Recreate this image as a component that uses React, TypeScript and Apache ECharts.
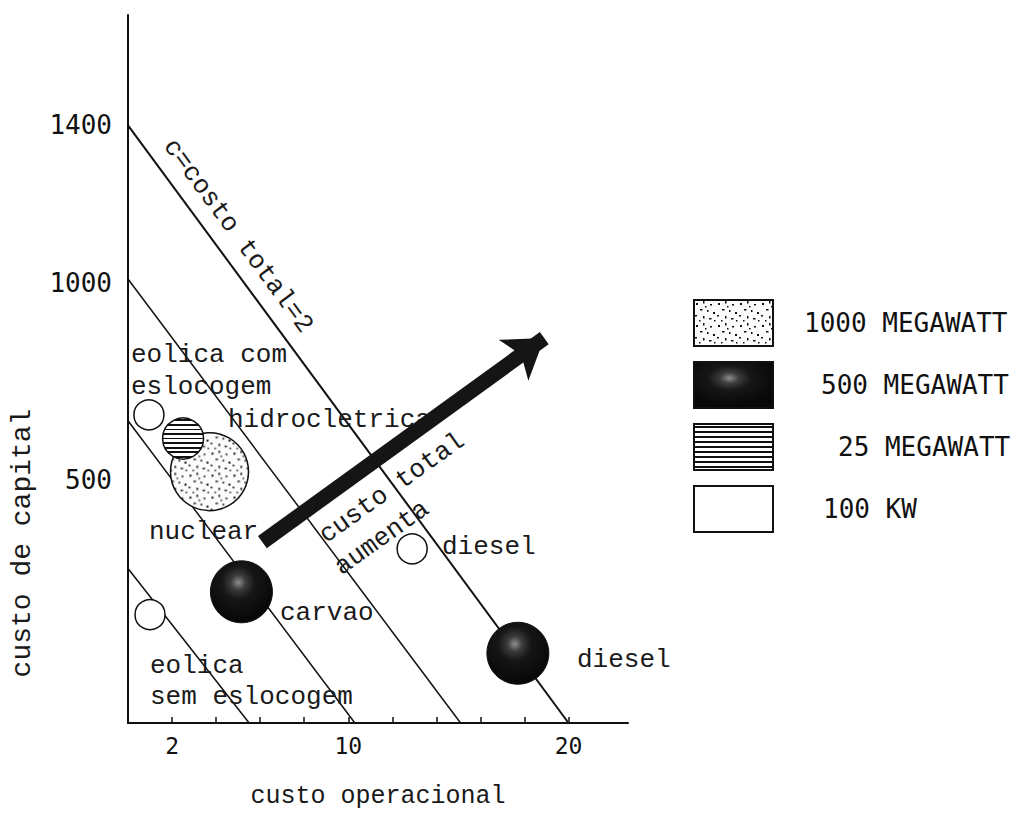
import React, { useEffect, useRef } from "react";
import * as echarts from "echarts";

// ---- data ----
const xTickLabels = [2, 10, 20];
const xTickMarks = [2, 4, 6, 8, 10, 12, 14, 16, 18, 20];
const yTickLabels = [500, 1000, 1400];

const seriesNames = ["1000 MEGAWATT", "500 MEGAWATT", "25 MEGAWATT", "100 KW"];
// [custo operacional, custo de capital]
const mw1000 = [[3.7, 521]]; // nuclear
const mw500 = [[5.15, 216], [17.7, 60]]; // carvao, diesel
const mw25 = [[2.5, 605]]; // hidroeletrica
const kw100 = [[0.95, 665], [12.9, 325], [1.0, 158]]; // eolica com, diesel, eolica sem

// iso-cost lines: capital cost where they meet the y axis, operational cost where they meet the x axis
const isoCapital = [1400, 1010, 650, 275];
const isoOperational = [20, 15.1, 10.3, 5.5];

// "custo total aumenta" arrow
const arrowStart = [6.1, 342];
const arrowEnd = [18.9, 860];

const X_MIN = 0;
const X_MAX = 22.7;
const Y_MIN = -117;
const Y_MAX = 1680;

const MONO = "'Liberation Mono', 'DejaVu Sans Mono', monospace";
const SANSMONO = "'DejaVu Sans Mono', monospace";

function makeStipple() {
  const c = document.createElement("canvas");
  c.width = 22;
  c.height = 22;
  const ctx = c.getContext("2d");
  if (ctx) {
    ctx.fillStyle = "#fcfcfc";
    ctx.fillRect(0, 0, 22, 22);
    ctx.fillStyle = "#111";
    const dots = [
      [2, 3, 2, 2], [9, 1, 1.5, 2.5], [16, 4, 2, 1.5], [6, 9, 2.5, 1.5],
      [13, 10, 1.5, 2], [19, 12, 2, 2], [1, 15, 2, 1.5], [9, 16, 1.5, 2.5],
      [15, 18, 2.5, 1.5], [5, 20, 1.5, 1.5], [20, 20, 1.5, 1.5], [11, 6, 1.5, 1.5],
    ];
    dots.forEach(([x, y, w, h]) => ctx.fillRect(x, y, w, h));
  }
  return c;
}

function stripes(n: number) {
  const stops: any[] = [];
  for (let k = 0; k < n; k++) {
    const s = (k + 0.5) / n - 0.022;
    const e = s + 0.044;
    stops.push({ offset: Math.max(0, s), color: "#fff" });
    stops.push({ offset: Math.max(0, s), color: "#111" });
    stops.push({ offset: Math.min(1, e), color: "#111" });
    stops.push({ offset: Math.min(1, e), color: "#fff" });
  }
  return { type: "linear", x: 0, y: 0, x2: 0, y2: 1, colorStops: stops };
}

const darkBall = {
  type: "radial",
  x: 0.45,
  y: 0.35,
  r: 0.6,
  colorStops: [
    { offset: 0, color: "#8e8e8e" },
    { offset: 0.2, color: "#3c3c3c" },
    { offset: 0.45, color: "#161616" },
    { offset: 1, color: "#080808" },
  ],
};

export default function App() {
  const ref = useRef<HTMLDivElement>(null);

  useEffect(() => {
    if (!ref.current) return;
    const chart = echarts.init(ref.current, null, { renderer: "svg" });
    const stipple = makeStipple();

    const sizes = [78, 62, 41, 30];
    const styles = [
      { color: { image: stipple, repeat: "repeat" }, borderColor: "#111", borderWidth: 1.5, opacity: 1 },
      { color: darkBall, borderColor: "#111", borderWidth: 1, opacity: 1 },
      { color: stripes(9), borderColor: "#111", borderWidth: 1.5, opacity: 1 },
      { color: "#fff", borderColor: "#111", borderWidth: 1.5, opacity: 1 },
    ];
    // symbols are drawn in a unit box and scaled, so the pattern for the marks is scaled back
    const sc = 2 / sizes[0];
    const stippleMark = {
      color: { image: stipple, repeat: "repeat", scaleX: sc, scaleY: sc },
      borderColor: "#111",
      borderWidth: 1.5,
      opacity: 1,
    };
    const pointSets = [mw1000, mw500, mw25, kw100];

    const isoSeries = isoCapital.map((c, i) => ({
      type: "line",
      name: "iso" + i,
      data: [
        [X_MIN, c],
        [isoOperational[i], Y_MIN],
      ],
      symbol: "none",
      lineStyle: { color: "#111", width: i === 0 ? 2 : 1.5 },
      z: 1,
      silent: true,
    }));

    const scatterSeries = pointSets.map((pts, i) => ({
      type: "scatter",
      name: seriesNames[i],
      data: i === 0 ? pts.map((v) => ({ value: v, itemStyle: stippleMark })) : pts,
      symbol: "circle",
      symbolSize: sizes[i],
      itemStyle: styles[i],
      z: i === 2 ? 4 : 3,
      silent: true,
    }));

    const pads = [26, 43, 60, 45];
    const rich: any = {};
    pads.forEach((p, i) => {
      rich["p" + i] = {
        fontFamily: SANSMONO,
        fontSize: 26,
        color: "#111",
        padding: [0, 0, 0, p],
      };
    });

    const txt = (text: string, x: number, y: number, extra: any = {}) => ({
      type: "text",
      x,
      y,
      z: 2,
      rotation: extra.rotation || 0,
      silent: true,
      style: {
        text,
        fontFamily: MONO,
        fontSize: extra.fontSize || 26,
        fill: "#1a1a1a",
        align: extra.align || "left",
        verticalAlign: "middle",
      },
    });

    const option: any = {
      animation: false,
      backgroundColor: "#fff",
      grid: { left: 128, top: 15, right: 383, bottom: 87, containLabel: false },
      xAxis: {
        type: "value",
        min: X_MIN,
        max: X_MAX,
        name: "custo operacional",
        nameLocation: "middle",
        nameGap: 61,
        nameTextStyle: { fontFamily: MONO, fontSize: 25, color: "#1a1a1a" },
        axisLine: { show: true, onZero: false, lineStyle: { color: "#111", width: 2 } },
        axisTick: {
          show: true,
          inside: true,
          length: 6,
          customValues: xTickMarks,
          lineStyle: { color: "#111", width: 1.5 },
        },
        axisLabel: {
          customValues: xTickLabels,
          fontFamily: SANSMONO,
          fontSize: 23,
          color: "#111",
          margin: 11,
          formatter: (v: number) => String(v),
        },
        splitLine: { show: false },
      },
      yAxis: {
        type: "value",
        min: Y_MIN,
        max: Y_MAX,
        axisLine: { show: true, onZero: false, lineStyle: { color: "#111", width: 2 } },
        axisTick: { show: false },
        axisLabel: {
          customValues: yTickLabels,
          fontFamily: SANSMONO,
          fontSize: 26,
          color: "#111",
          margin: 16,
          formatter: (v: number) => String(v),
        },
        splitLine: { show: false },
      },
      legend: {
        data: seriesNames,
        orient: "vertical",
        left: 688,
        top: 294,
        icon: "rect",
        itemWidth: 79,
        itemHeight: 46,
        itemGap: 14,
        selectedMode: false,
        textStyle: { fontFamily: SANSMONO, fontSize: 26, color: "#111", rich },
        formatter: (name: string) => {
          const i = seriesNames.indexOf(name);
          return "{p" + i + "|" + name + "}";
        },
      },
      series: [
        ...isoSeries,
        ...scatterSeries,
        {
          type: "lines",
          name: "arrow",
          coordinateSystem: "cartesian2d",
          data: [{ coords: [arrowStart, arrowEnd] }],
          symbol: ["none", "arrow"],
          symbolSize: 38,
          lineStyle: { color: "#151515", width: 15, opacity: 1 },
          z: 6,
          silent: true,
        },
      ],
      graphic: [
        txt("eolica com", 131, 355),
        txt("eslocogem", 131, 387),
        txt("hidrocletrica", 228, 420),
        txt("nuclear", 149, 532),
        txt("carvao", 280, 613),
        txt("diesel", 442, 547),
        txt("diesel", 577, 660),
        txt("eolica", 150, 666),
        txt("sem eslocogem", 150, 697),
        txt("c=costo total=2", 238, 236, { rotation: -0.935, align: "center" }),
        txt("custo total", 392, 488, { rotation: 0.62, align: "center" }),
        txt("aumenta", 382, 538, { rotation: 0.62, align: "center" }),
        txt("custo de capital", 22, 543, { rotation: Math.PI / 2, align: "center", fontSize: 28 }),
      ],
    };

    chart.setOption(option);
    return () => chart.dispose();
  }, []);

  return (
    <div
      ref={ref}
      style={{ position: "fixed", left: 0, top: 0, width: 1011, height: 814, background: "#fff" }}
    />
  );
}
